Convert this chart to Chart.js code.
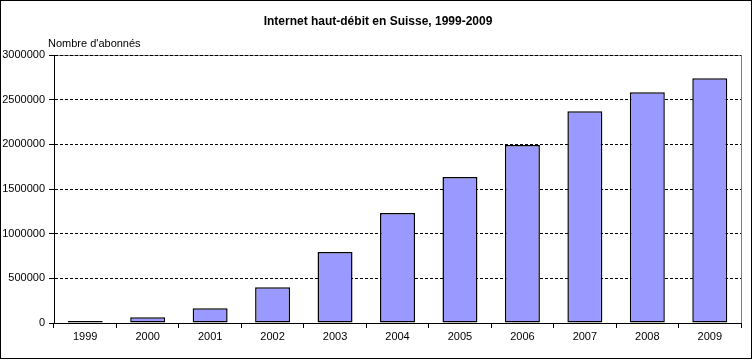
<!DOCTYPE html>
<html lang="fr">
<head>
    <meta charset="UTF-8">
    <title>Internet haut-débit en Suisse, 1999-2009</title>
    <style>
        html, body { margin: 0; padding: 0; background: #fff; }
        #wrap { position: relative; width: 754px; height: 361px; }
    </style>
</head>
<body>
    <div id="wrap"><canvas id="chart"></canvas></div>

    <script src="https://cdn.jsdelivr.net/npm/chart.js"></script>
    <script>
        const years = ['1999', '2000', '2001', '2002', '2003', '2004', '2005', '2006', '2007', '2008', '2009'];
        const abonnes = [22000, 64000, 164000, 400000, 795000, 1231000, 1634000, 1993000, 2370000, 2582000, 2739000];
        const titleText = 'Internet haut-débit en Suisse, 1999-2009';
        const yLabel = "Nombre d'abonnés";

        const font = 'Liberation Sans, Arial, sans-serif';

        // frame, plot border and the two texts
        const decor = {
            id: 'decor',
            beforeDraw(chart) {
                const { ctx, chartArea: a } = chart;
                ctx.save();
                ctx.strokeStyle = '#808080';
                ctx.lineWidth = 1;
                ctx.strokeRect(a.left + 0.5, a.top + 0.5, a.right - a.left, a.bottom - a.top);
                ctx.restore();
            },
            afterDraw(chart) {
                const { ctx, chartArea: a } = chart;
                ctx.save();
                ctx.strokeStyle = '#000';
                ctx.lineWidth = 1;
                ctx.strokeRect(0.5, 0.5, 751, 358);
                ctx.fillStyle = '#000';
                ctx.textBaseline = 'middle';
                ctx.textAlign = 'center';
                ctx.font = 'bold 12px ' + font;
                ctx.fillText(titleText, 378, 22);
                ctx.textAlign = 'left';
                ctx.font = '11px ' + font;
                ctx.fillText(yLabel, a.left - 6, 44);
                ctx.restore();
            }
        };

        new Chart(document.getElementById('chart'), {
            type: 'bar',
            data: {
                labels: years,
                datasets: [{
                    data: abonnes,
                    backgroundColor: '#9999FF',
                    borderColor: '#000',
                    borderWidth: 1.5,
                    borderSkipped: false,
                    barPercentage: 0.56,
                    categoryPercentage: 1
                }]
            },
            options: {
                responsive: true,
                maintainAspectRatio: false,
                animation: false,
                layout: { padding: { top: 55, right: 13, bottom: 16, left: 0 } },
                plugins: {
                    legend: { display: false },
                    title: { display: false },
                    tooltip: { enabled: false }
                },
                scales: {
                    x: {
                        offset: true,
                        grid: { offset: true, drawOnChartArea: false, color: '#000', tickLength: 5 },
                        border: { color: '#000', z: 1 },
                        ticks: { color: '#000', font: { family: font, size: 11 }, padding: 2, maxRotation: 0 },
                        afterFit(s) { s.height = 22; }
                    },
                    y: {
                        min: 0,
                        max: 3000000,
                        ticks: {
                            stepSize: 500000,
                            color: '#000',
                            font: { family: font, size: 11 },
                            padding: 4,
                            callback: v => String(v)
                        },
                        grid: {
                            color: c => c.tick && c.tick.value === 0 ? 'rgba(0,0,0,0)' : '#000',
                            tickColor: '#000',
                            tickLength: 5
                        },
                        border: { color: '#000', dash: [3, 2] },
                        afterFit(s) { s.width = 54; }
                    }
                }
            },
            plugins: [decor]
        });
    </script>
</body>
</html>
